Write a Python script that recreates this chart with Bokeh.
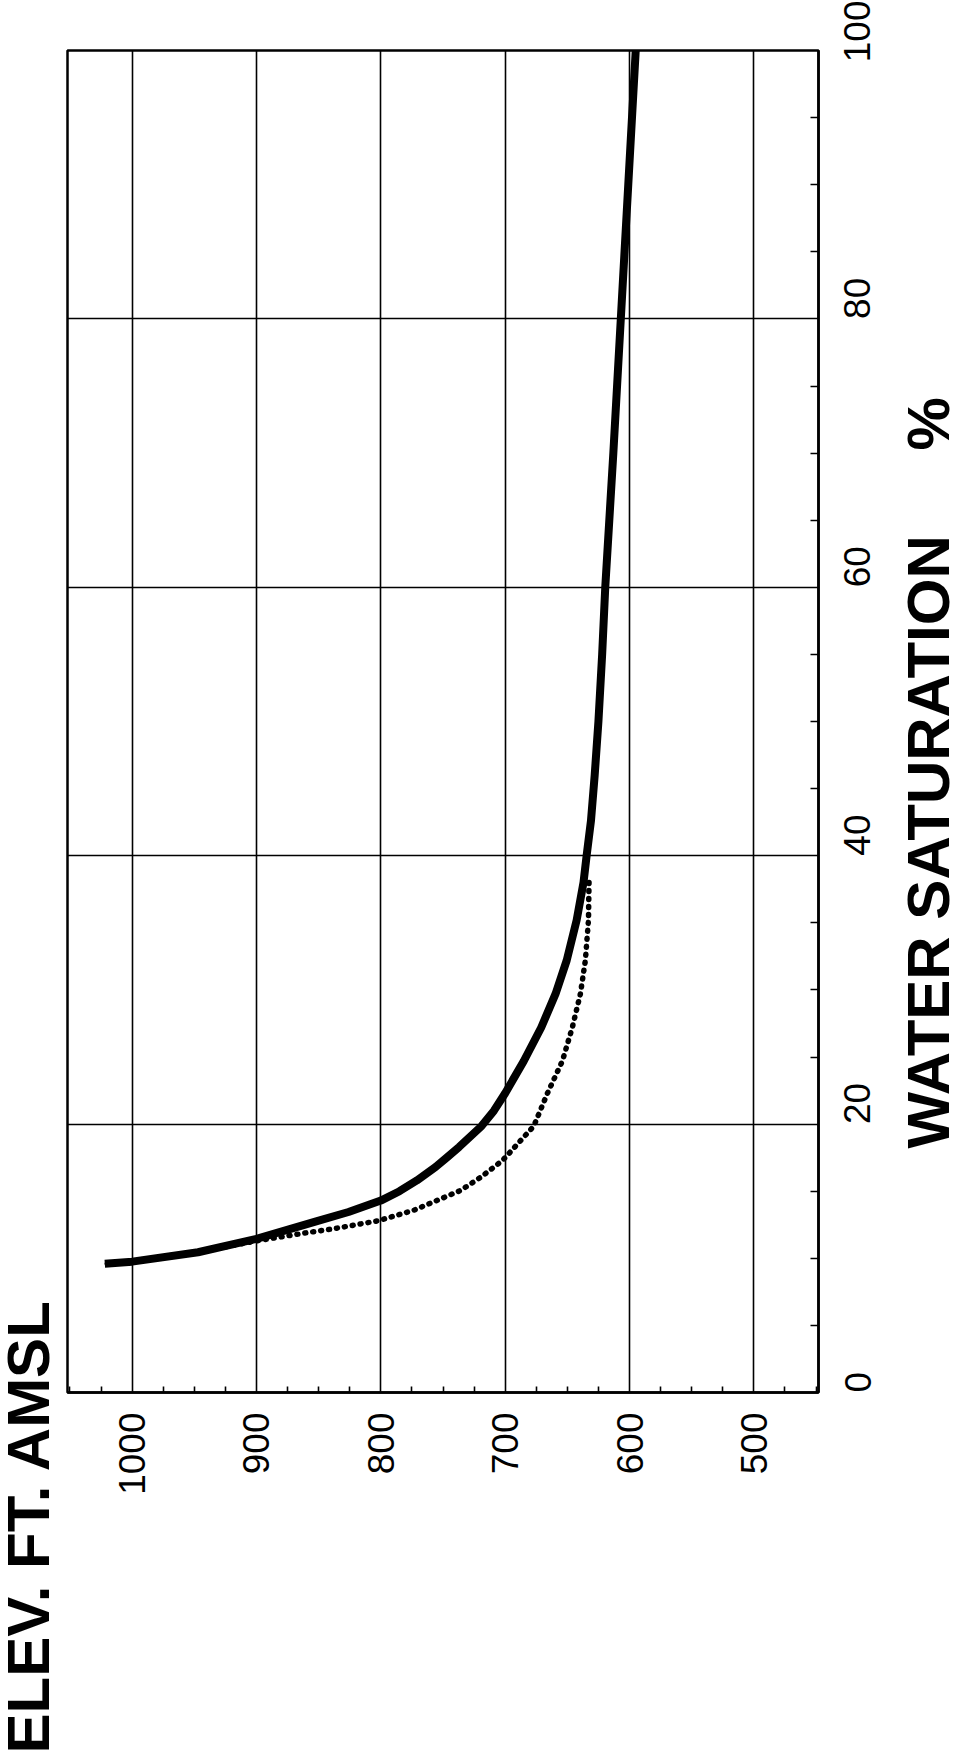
import math
from bokeh.plotting import figure
from bokeh.models import Range1d, FixedTicker, Label
from bokeh.layouts import row
from bokeh.embed import file_html
from bokeh.resources import INLINE

# ---- data ----
sat_solid = [9.6, 9.75, 10.45, 11.45, 12.75, 13.45, 14.3, 15.0, 15.8, 16.8, 17.5, 18.3,
             19.85, 21.0, 22.3, 24.7, 27.2, 29.7, 32.2, 35.2, 38.0, 40.0, 42.6, 46.0,
             50.0, 55.0, 60.0, 70.0, 80.0, 90.0, 100.0]
elev_solid = [1022, 1000, 947, 900, 852, 826, 800, 785, 771, 756, 747, 737,
              719, 709, 700, 685, 671, 659.5, 650.5, 642.5, 637, 634.5, 631, 628,
              625, 622, 619.5, 613, 607, 601, 595]

sat_dotted = [9.6, 9.75, 10.4, 11.3, 11.9, 12.2, 12.8, 13.6, 15.05, 16.05, 17.3, 19.85,
              22.3, 24.7, 27.2, 29.7, 32.2, 35.2, 38.5]
elev_dotted = [1020, 1000, 950, 900, 860, 838, 802, 773, 736, 719.5, 702, 677,
               666, 654, 646, 639.5, 635.5, 633, 632.5]

elev_ticks = [500, 600, 700, 800, 900, 1000]
elev_minor = [450, 475, 525, 550, 575, 625, 650, 675, 725, 750, 775, 825, 850, 875,
              925, 950, 975, 1025, 1050]
sat_ticks = [0, 20, 40, 60, 80, 100]
sat_minor = [5, 10, 15, 25, 30, 35, 45, 50, 55, 65, 70, 75, 85, 90, 95]

x_label = "ELEV. FT. AMSL"
y_label = "WATER SATURATION"
y_unit = "%"

# ---- layout ----
H = 1755
LW, MW, RW = 64, 841, 53
BL, BT, BR, BB = 3, 50, 87, H - 1392
X0, X1 = 1052, 448
Y0, Y1 = 0, 100

p = figure(width=MW, height=H, x_range=Range1d(X0, X1), y_range=Range1d(Y0, Y1),
           output_backend="svg", toolbar_location=None,
           x_axis_location="below", y_axis_location="right",
           min_border_left=BL, min_border_top=BT, min_border_right=BR,
           min_border_bottom=BB)
p.frame_align = False

p.background_fill_color = "white"
p.border_fill_color = "white"
p.outline_line_color = "black"
p.outline_line_width = 2.5

xt = FixedTicker(ticks=elev_ticks, minor_ticks=elev_minor)
yt = FixedTicker(ticks=sat_ticks, minor_ticks=sat_minor)
p.xaxis.ticker = xt
p.yaxis.ticker = yt
p.xgrid.ticker = xt
p.ygrid.ticker = yt
for g in (p.xgrid, p.ygrid):
    g.grid_line_color = "black"
    g.grid_line_width = 1.6
    g.grid_line_alpha = 1.0

for ax in (p.xaxis, p.yaxis):
    ax.axis_line_color = "black"
    ax.axis_line_width = 2.5
    ax.major_tick_line_color = None
    ax.major_tick_out = 0
    ax.major_tick_in = 0
    ax.minor_tick_line_color = "black"
    ax.minor_tick_line_width = 1.6
    ax.minor_tick_out = 0
    ax.major_label_text_font = "Liberation Sans"
    ax.major_label_text_font_size = "37px"
    ax.major_label_text_color = "black"
    ax.major_label_orientation = math.pi / 2

p.xaxis.minor_tick_in = 6
p.yaxis.minor_tick_in = 8
p.xaxis.major_label_standoff = 20
p.yaxis.major_label_standoff = 39

# curves
p.line(elev_solid, sat_solid, line_color="black", line_width=8, line_cap="butt",
       line_join="round")
p.line(elev_dotted, sat_dotted, line_color="black", line_width=5.5, line_cap="round",
       line_dash="1 7")


# ---- side figures that hold the rotated axis titles ----
def side_fig(w):
    f = figure(width=w, height=H, x_range=Range1d(0, w), y_range=Range1d(0, H),
               output_backend="svg", toolbar_location=None,
               x_axis_location=None, y_axis_location=None,
               min_border=0, min_border_left=0, min_border_right=0,
               min_border_top=0, min_border_bottom=0)
    f.frame_align = False
    f.grid.visible = False
    f.outline_line_color = None
    f.background_fill_color = "white"
    f.border_fill_color = "white"
    return f


FS = 60
shift = 0.373 * FS  # rotated label anchor sits this far from its baseline
common = dict(angle=math.pi / 2, text_font="Liberation Sans", text_font_style="bold",
              text_font_size=f"{FS}px", text_color="black", text_align="left",
              text_baseline="alphabetic")

left = side_fig(LW)
left.add_layout(Label(x=50 - shift, y=H - 1753, text=x_label, **common))

right = side_fig(RW)
right.add_layout(Label(x=45 - shift, y=H - 1148, text=y_label, **common))
right.add_layout(Label(x=45 - shift, y=H - 450, text=y_unit, **common))

layout = row(left, p, right, spacing=0)
open("out.html", "w").write(file_html(layout, INLINE))
